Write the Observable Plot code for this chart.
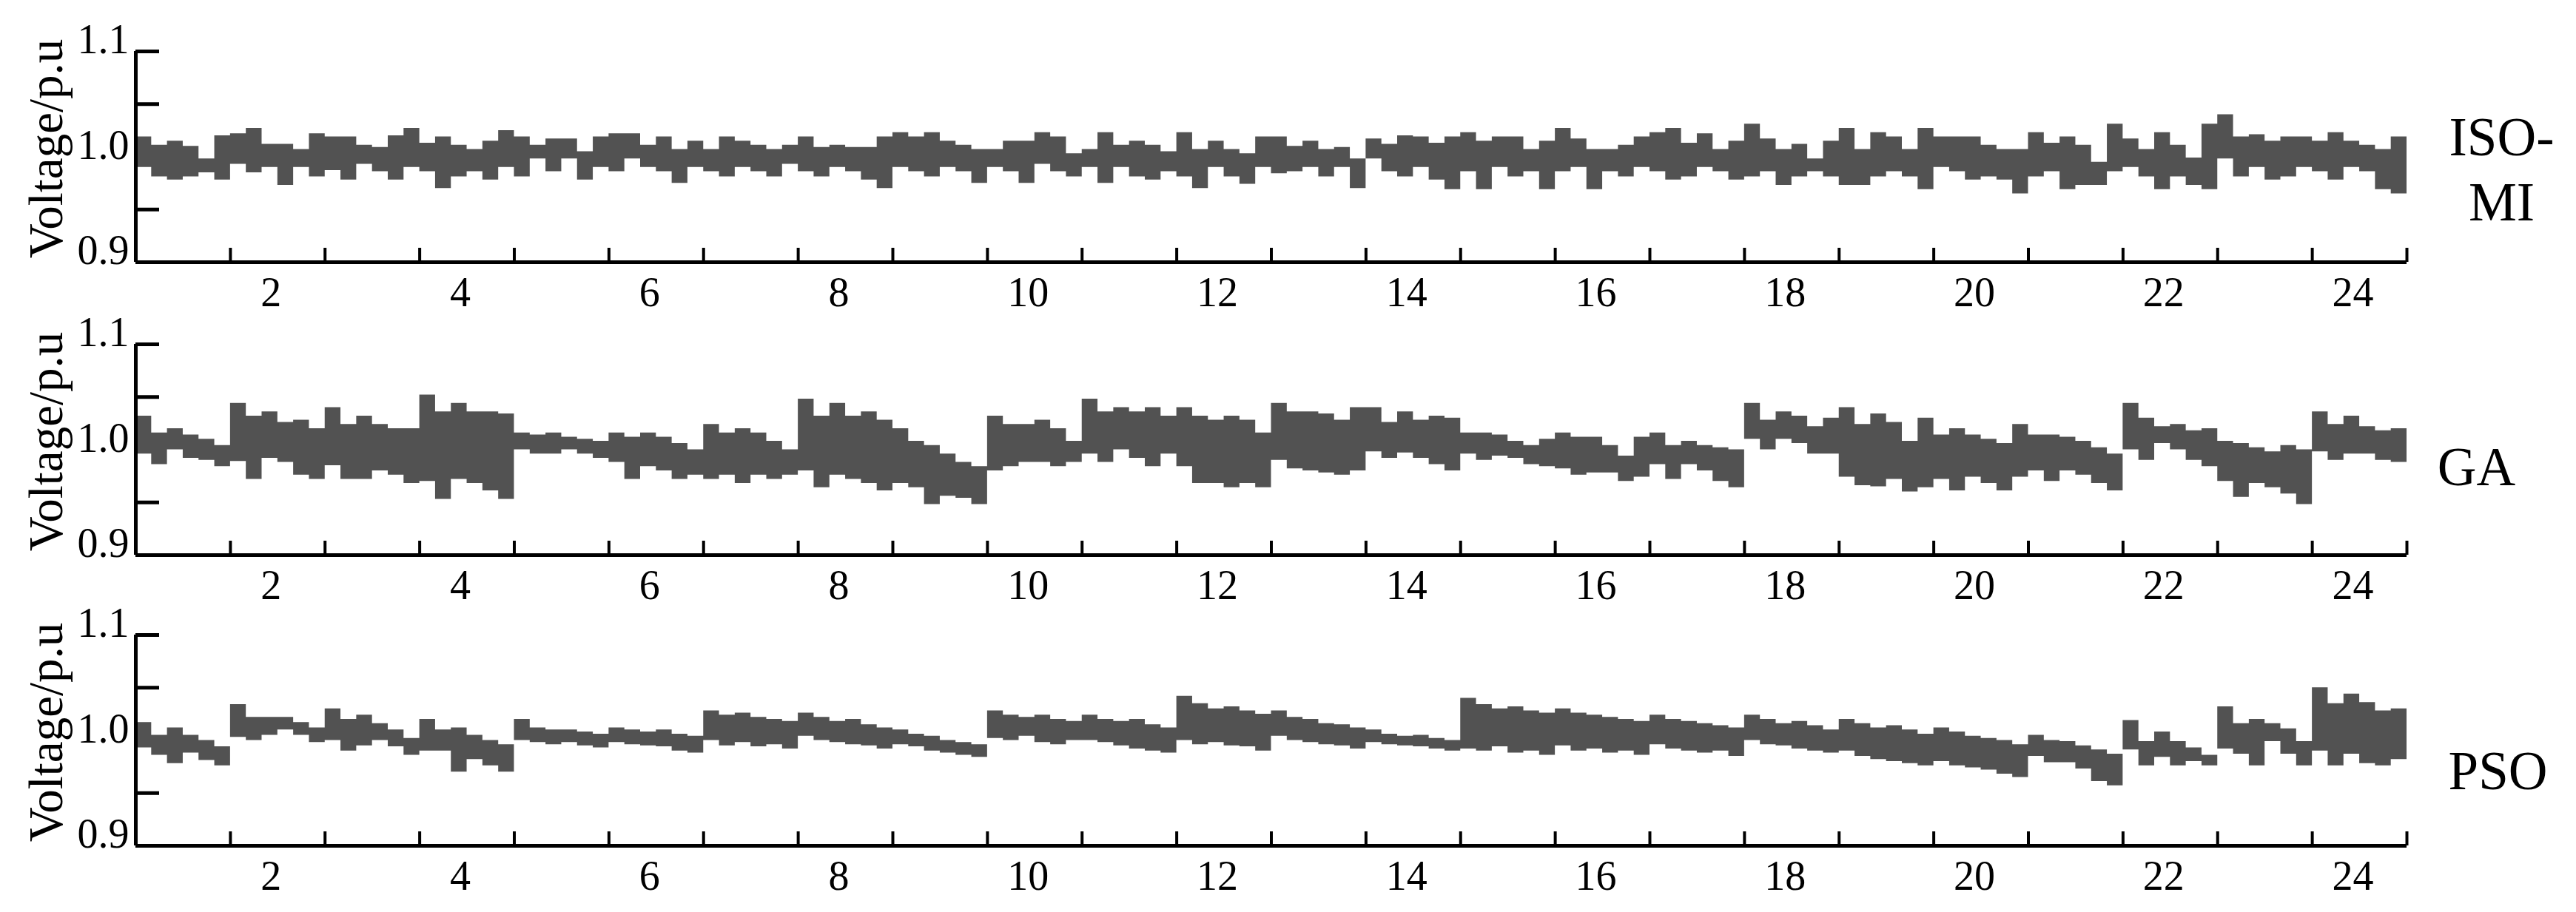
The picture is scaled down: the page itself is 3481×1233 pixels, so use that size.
<!DOCTYPE html>
<html><head><meta charset="utf-8">
<script src="https://cdn.jsdelivr.net/npm/d3@7"></script>
<script src="https://cdn.jsdelivr.net/npm/@observablehq/plot@0.6"></script>
<style>
html,body{margin:0;padding:0;background:#fff;}
#chart{position:relative;width:3481px;height:1233px;overflow:hidden;}
#chart svg{position:absolute;left:0;}
#chart svg, #chart svg text{font-family:"Liberation Serif",serif !important;}
</style></head><body><div id="chart"></div>
<script>
// ---- axis / labels ----
const xTickHours = d3.range(0, 25);               // hour boundaries (ticks)
const xLabels = [2,4,6,8,10,12,14,16,18,20,22,24];
const yTicks = [0.9, 0.95, 1.0, 1.05, 1.1];
const yLabels = [0.9, 1.0, 1.1];
const yTitle = "Voltage/p.u";
const seriesNames = ["ISO-\nMI", "GA", "PSO"];
const stepsPerHour = 6;

// ---- ISO-MI: upper / lower envelope (6 steps per hour) ----
const isoHi = [
1.019,1.011,1.015,1.010,0.998,1.020,1.022,1.027,1.012,1.012,
1.007,1.022,1.019,1.019,1.011,1.009,1.020,1.027,1.013,1.019,
1.011,1.007,1.015,1.025,1.019,1.011,1.017,1.017,1.005,1.019,
1.022,1.022,1.011,1.019,1.007,1.015,1.007,1.019,1.015,1.011,
1.007,1.011,1.019,1.009,1.011,1.009,1.009,1.019,1.023,1.019,
1.023,1.015,1.011,1.007,1.007,1.015,1.015,1.023,1.019,1.003,
1.007,1.023,1.011,1.015,1.011,1.005,1.023,1.007,1.015,1.007,
1.003,1.019,
1.019,1.010,1.015,1.007,1.009,0.998,1.017,1.012,1.020,1.019,
1.013,1.019,1.023,1.015,1.019,1.019,1.007,1.015,1.027,1.017,
1.007,1.007,1.011,1.019,1.023,1.027,1.013,1.022,1.007,1.015,
1.031,1.017,1.007,1.012,0.998,1.015,1.027,1.007,1.023,1.019,
1.007,1.027,1.019,1.019,1.019,1.011,1.007,1.007,1.023,1.013,
1.019,1.011,0.995,1.031,1.017,1.007,1.023,1.011,0.999,1.031,
1.040,1.019,1.021,1.015,1.019,1.019,1.015,1.023,1.015,1.011,
1.007,1.019];
const isoLo = [
0.990,0.981,0.978,0.981,0.985,0.978,0.993,0.985,0.990,0.973,
0.990,0.981,0.987,0.978,0.993,0.986,0.978,0.990,0.986,0.970,
0.981,0.986,0.978,0.990,0.981,0.998,0.986,0.998,0.978,0.990,
0.986,0.998,0.990,0.986,0.975,0.990,0.986,0.981,0.990,0.986,
0.981,0.993,0.986,0.981,0.990,0.986,0.978,0.970,0.990,0.986,
0.981,0.990,0.986,0.975,0.990,0.986,0.975,0.993,0.986,0.981,
0.990,0.975,0.990,0.981,0.978,0.986,0.981,0.970,0.990,0.981,
0.974,0.990,
0.984,0.986,0.990,0.981,0.990,0.970,0.998,0.986,0.981,0.990,
0.978,0.969,0.986,0.969,0.990,0.981,0.986,0.969,0.986,0.990,
0.969,0.986,0.981,0.990,0.986,0.978,0.981,0.990,0.986,0.978,
0.981,0.986,0.973,0.981,0.986,0.981,0.973,0.973,0.981,0.986,
0.981,0.969,0.990,0.986,0.978,0.981,0.978,0.965,0.981,0.986,
0.969,0.973,0.973,0.986,0.990,0.981,0.969,0.981,0.973,0.969,
0.998,0.981,0.990,0.978,0.981,0.990,0.986,0.978,0.990,0.986,
0.969,0.965];

// ---- GA ----
const gaHi = [
1.032,1.016,1.020,1.014,1.010,1.004,
1.044,1.032,1.036,1.026,1.028,1.020,
1.040,1.024,1.032,1.024,1.020,1.020,
1.052,1.036,1.044,1.036,1.036,1.034,
1.016,1.014,1.016,1.012,1.010,1.008,
1.016,1.012,1.016,1.012,1.006,1.000,
1.024,1.016,1.020,1.016,1.008,1.000,
1.048,1.032,1.044,1.032,1.036,1.028,
1.020,1.008,1.004,0.996,0.988,0.984,
1.032,1.024,1.024,1.028,1.020,1.008,
1.048,1.036,1.040,1.036,1.040,1.032,
1.040,1.032,1.028,1.032,1.028,1.016,
1.044,1.036,1.036,1.034,1.028,1.040,
1.040,1.026,1.036,1.028,1.032,1.030,
1.016,1.016,1.014,1.008,1.004,1.010,
1.016,1.012,1.012,1.004,0.994,1.012,
1.016,1.004,1.008,1.004,1.002,1.000,
1.044,1.028,1.036,1.032,1.022,1.030,
1.040,1.024,1.034,1.026,1.008,1.030,
1.014,1.020,1.014,1.010,1.006,1.024,
1.014,1.014,1.012,1.008,1.002,0.996,
1.044,1.030,1.022,1.024,1.018,1.020,
1.008,1.006,1.002,0.998,1.004,1.000,
1.036,1.024,1.032,1.022,1.018,1.020];
const gaLo = [
0.996,0.986,1.000,0.992,0.990,0.984,
0.989,0.972,0.992,0.988,0.976,0.972,
0.985,0.972,0.972,0.980,0.976,0.968,
0.970,0.953,0.972,0.968,0.961,0.953,
1.000,0.996,0.996,1.000,0.996,0.992,
0.988,0.972,0.984,0.980,0.972,0.976,
0.972,0.976,0.968,0.976,0.972,0.976,
0.980,0.964,0.976,0.972,0.968,0.961,
0.968,0.964,0.948,0.956,0.954,0.948,
0.980,0.984,0.988,0.988,0.984,0.988,
0.996,0.988,1.000,0.992,0.984,0.996,
0.984,0.968,0.968,0.964,0.968,0.964,
0.990,0.982,0.980,0.978,0.976,0.980,
0.998,0.992,0.997,0.992,0.986,0.980,
0.996,0.990,0.994,0.992,0.986,0.984,
0.982,0.976,0.978,0.978,0.970,0.974,
0.986,0.972,0.986,0.980,0.970,0.964,
1.010,1.000,1.010,1.006,0.996,0.996,
0.974,0.966,0.965,0.972,0.960,0.964,
0.972,0.961,0.974,0.968,0.961,0.974,
0.980,0.970,0.980,0.976,0.968,0.961,
1.000,0.990,1.006,1.000,0.990,0.984,
0.970,0.955,0.968,0.964,0.958,0.948,
0.998,0.990,0.996,0.996,0.990,0.988];

// ---- PSO ----
const psoHi = [
1.017,1.005,1.012,1.005,1.000,0.994,
1.034,1.022,1.022,1.022,1.017,1.012,
1.030,1.020,1.024,1.016,1.010,1.002,
1.020,1.010,1.012,1.005,1.000,0.996,
1.020,1.012,1.010,1.010,1.008,1.006,
1.012,1.010,1.008,1.010,1.006,1.004,
1.028,1.024,1.026,1.022,1.020,1.018,
1.026,1.022,1.018,1.020,1.015,1.012,
1.010,1.006,1.004,1.000,0.998,0.996,
1.028,1.024,1.022,1.024,1.020,1.018,
1.024,1.020,1.018,1.020,1.015,1.012,
1.042,1.035,1.030,1.032,1.028,1.025,
1.028,1.022,1.020,1.016,1.015,1.012,
1.010,1.006,1.004,1.005,1.002,1.000,
1.040,1.034,1.030,1.032,1.028,1.026,
1.030,1.026,1.024,1.022,1.020,1.018,
1.024,1.020,1.018,1.016,1.014,1.012,
1.024,1.020,1.016,1.018,1.014,1.010,
1.020,1.016,1.012,1.014,1.010,1.006,
1.012,1.008,1.004,1.002,1.000,0.996,
1.005,1.000,0.999,0.995,0.991,0.987,
1.019,0.999,1.008,0.999,0.993,0.986,
1.032,1.016,1.020,1.016,1.011,0.999,
1.050,1.035,1.044,1.036,1.028,1.030];
const psoLo = [
0.993,0.986,0.978,0.988,0.981,0.976,
1.003,1.000,1.005,1.010,1.005,0.998,
1.000,0.990,0.995,1.000,0.994,0.986,
0.990,0.990,0.970,0.982,0.976,0.970,
1.000,0.998,0.996,0.998,0.995,0.993,
0.998,0.996,0.995,0.994,0.990,0.988,
1.000,0.995,0.998,0.994,0.996,0.992,
1.004,1.000,0.998,0.996,0.995,0.992,
0.996,0.994,0.990,0.988,0.986,0.984,
1.002,1.000,1.004,0.998,0.996,1.000,
1.000,0.998,0.995,0.992,0.990,0.988,
1.000,0.996,0.998,0.995,0.994,0.990,
1.004,1.000,0.998,0.996,0.995,0.992,
0.998,0.996,0.995,0.994,0.992,0.990,
0.992,0.990,0.994,0.988,0.990,0.986,
0.995,0.990,0.992,0.988,0.990,0.986,
0.996,0.992,0.990,0.988,0.990,0.985,
1.000,0.996,0.995,0.992,0.990,0.988,
0.990,0.985,0.982,0.980,0.978,0.976,
0.980,0.976,0.974,0.972,0.968,0.965,
0.985,0.979,0.979,0.973,0.961,0.957,
0.991,0.976,0.984,0.976,0.980,0.976,
0.992,0.987,0.976,0.999,0.987,0.976,
0.990,0.976,0.987,0.978,0.976,0.982];

// ---- build tables ----
function table(hi, lo) {
  const rows = hi.map((h, i) => ({t: i / stepsPerHour, hi: h, lo: lo[i]}));
  rows.push({t: hi.length / stepsPerHour, hi: hi[hi.length - 1], lo: lo[lo.length - 1]});
  return rows;
}

const font = "Liberation Serif";
const labelShift = 0.57;
const panels = [
  {name: seriesNames[0], hi: isoHi, lo: isoLo, top: 29, ndx: 128, ndy: 14},
  {name: seriesNames[1], hi: gaHi,  lo: gaLo,  top: 425, ndx: 94,  ndy: 20},
  {name: seriesNames[2], hi: psoHi, lo: psoLo, top: 818, ndx: 123, ndy: 38}
];

const root = document.getElementById("chart");
for (const p of panels) {
  const svg = Plot.plot({
    width: 3481, height: 400,
    marginLeft: 183, marginRight: 229, marginTop: 40, marginBottom: 75,
    x: {domain: [0, 24]},
    y: {domain: [0.9, 1.1]},
    style: {fontFamily: font, background: "transparent", overflow: "visible", color: "black"},
    marks: [
      Plot.axisY({ticks: yTicks, tickSize: -32, tickFormat: () => "", strokeWidth: 5, label: null}),
      Plot.axisX({ticks: xTickHours, tickSize: -19, tickFormat: () => "", strokeWidth: 4, label: null}),
      Plot.areaY(table(p.hi, p.lo), {x: "t", y1: "lo", y2: "hi", curve: "step-after", fill: "#525252"}),
      Plot.axisY({ticks: yLabels, tickSize: 0, tickPadding: 9, tickFormat: d => d.toFixed(1),
                  fontSize: 56, fontFamily: font, dy: -15, label: null}),
      Plot.axisX({ticks: xLabels.map(n => n - labelShift), tickSize: 0, tickPadding: 20,
                  tickFormat: d => String(Math.round(d + labelShift)), fontSize: 56, fontFamily: font, label: null}),
      Plot.ruleX([0], {stroke: "black", strokeWidth: 5}),
      Plot.ruleY([0.9], {stroke: "black", strokeWidth: 5}),
      Plot.text([yTitle], {frameAnchor: "left", textAnchor: "middle", dx: -120, dy: -11, rotate: -90,
                           fontSize: 65, fontFamily: font, fill: "black"}),
      Plot.text([p.name], {frameAnchor: "right", dx: p.ndx, dy: p.ndy, fontSize: 73, lineHeight: 1.2,
                           textAnchor: "middle", fontFamily: font, fill: "black"})
    ]
  });
  svg.style.top = p.top + "px";
  root.appendChild(svg);
}
</script></body></html>
